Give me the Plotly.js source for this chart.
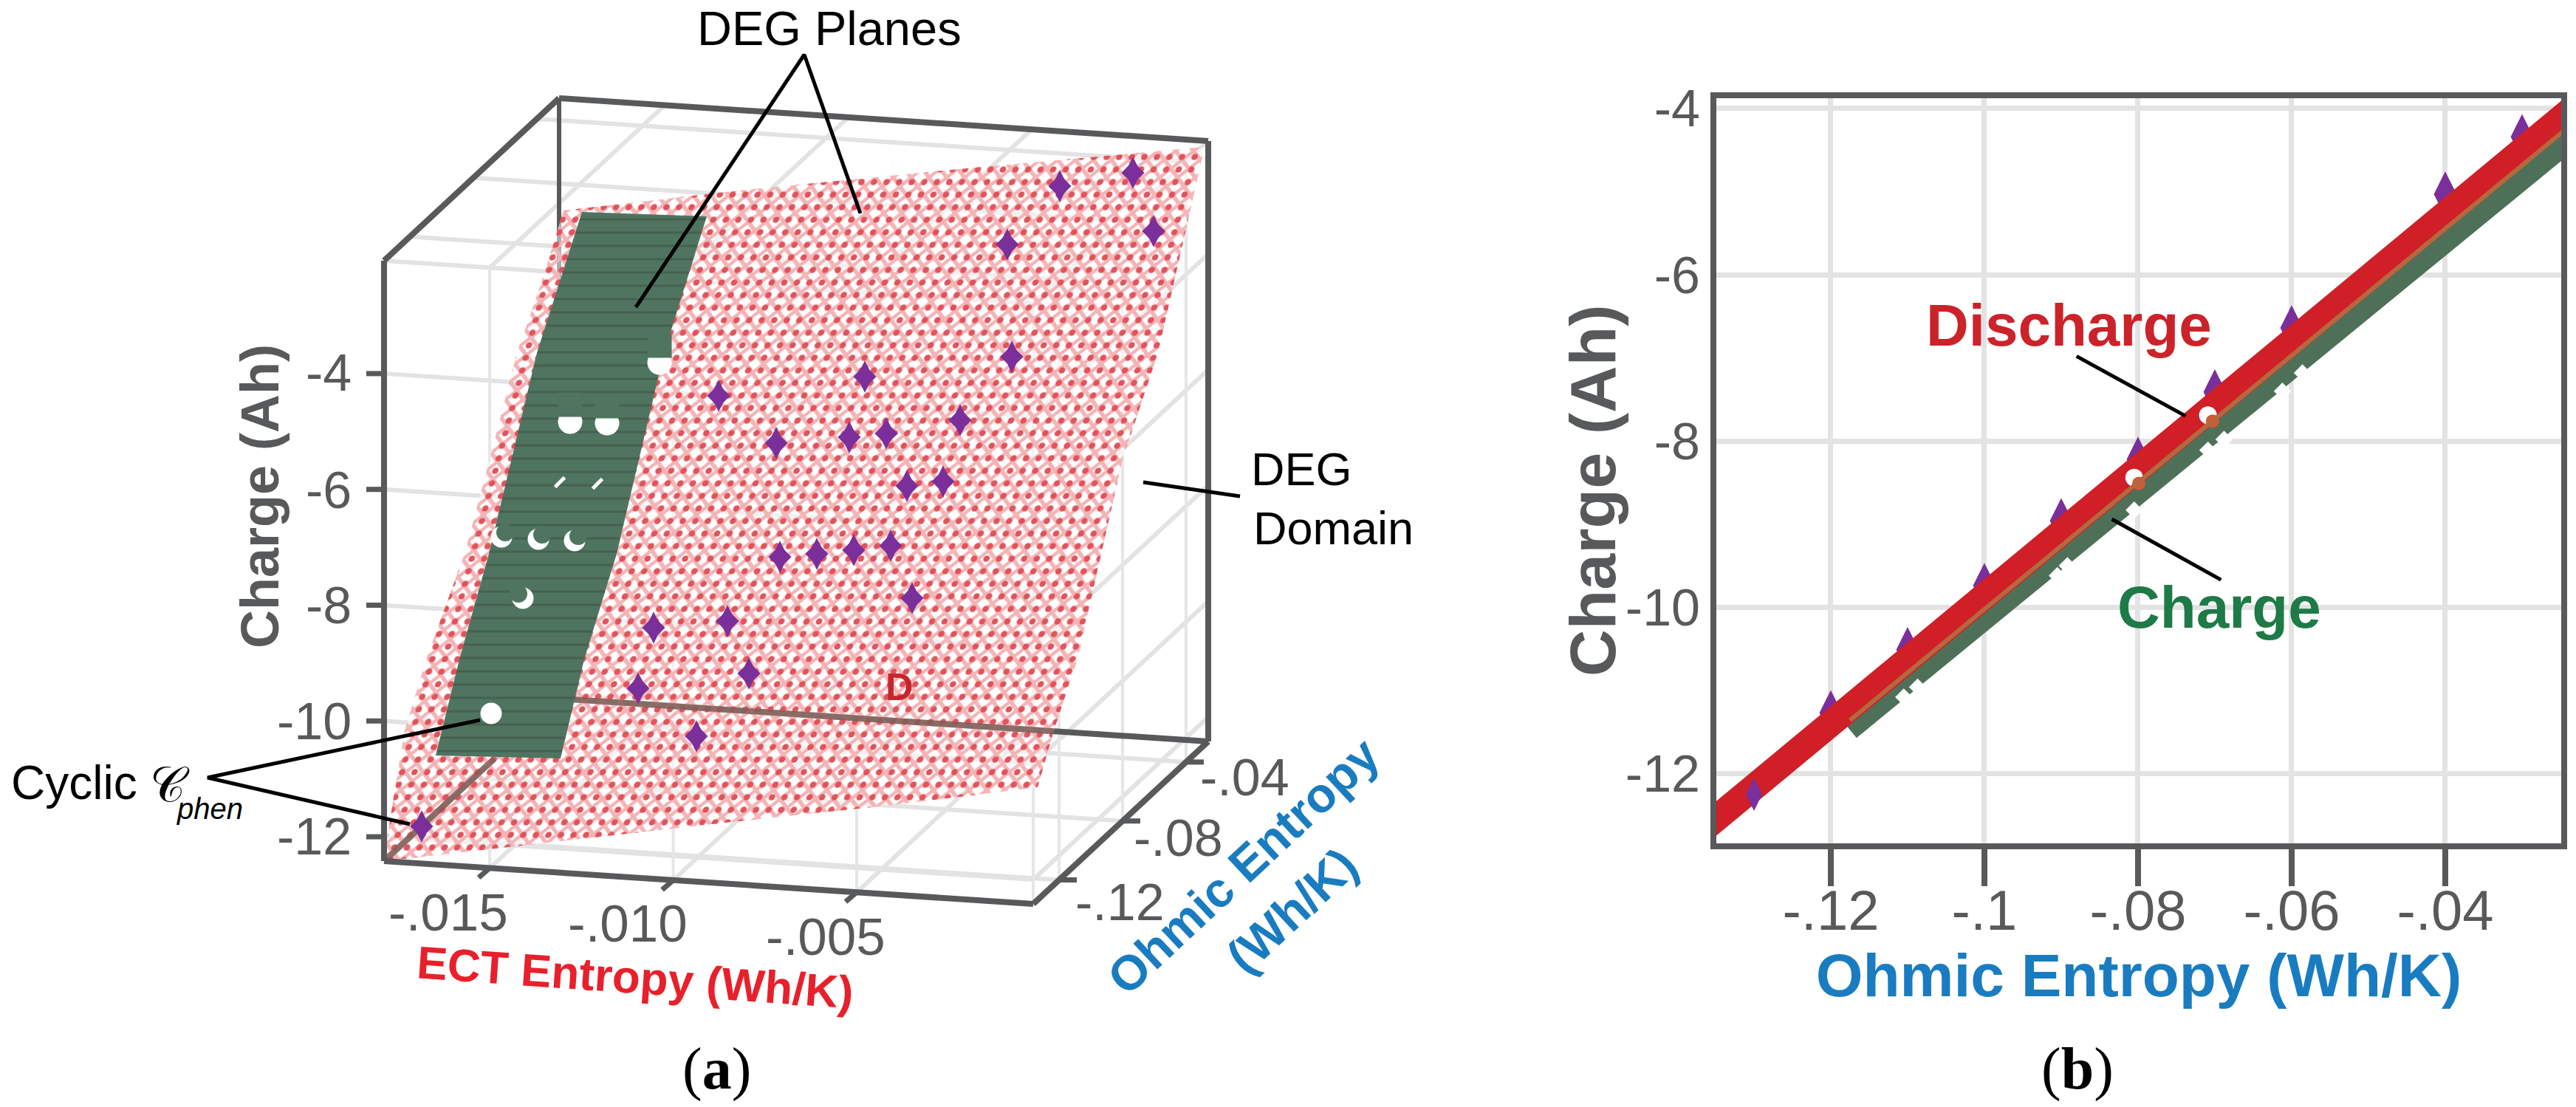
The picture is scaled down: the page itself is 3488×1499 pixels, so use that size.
<!DOCTYPE html>
<html>
<head>
<meta charset="utf-8">
<script src="https://cdn.plot.ly/plotly-3.0.1.min.js"></script>
<style>html,body{margin:0;padding:0;background:#fff}#chart{width:3488px;height:1499px}</style>
</head>
<body>
<div id="chart"></div>
<script>
// ---------- panel (a): tick values ----------
const ectTicks = [-0.015, -0.010, -0.005];
const ohmicTicksA = [-0.12, -0.08, -0.04];
const chargeTicksA = [-4, -6, -8, -10, -12];
const ectRange = [-0.01788, -0.00019];
const ohmicRangeA = [-0.1363, -0.026];
const chargeRangeA = [-12.42, -2.05];

// ---------- panel (a): marks ----------
const redPlaneX = [520, 532, 548, 577, 629, 663, 700, 733, 763, 1000, 1319, 1631, 1568, 1520, 1491, 1459, 1427, 1405, 1191, 1000, 520];
const redPlaneY = [1166, 1085, 989, 893, 750, 622, 478, 383, 285, 258, 227, 199, 478, 622, 750, 893, 989, 1066, 1092, 1112, 1166];
const greenPlaneX = [788, 957, 899, 835, 791, 759, 590, 622, 662, 727];
const greenPlaneY = [287, 293, 478, 750, 893, 1027, 1023, 893, 750, 478];
const diamondAX = [1534, 1435, 1562, 1364, 1370, 1171, 973, 1300, 1051, 1150, 1200, 1228, 1277, 1056, 1106, 1156, 1206, 1235, 885, 985, 864, 1014, 943, 571];
const diamondAY = [234, 252, 313, 331, 483, 510, 536, 569, 600, 592, 587, 658, 652, 754, 750, 745, 739, 810, 850, 841, 932, 912, 997, 1119];
const halfDiscX = [893, 772, 822];
const halfDiscY = [491, 571, 573];
const sliverX = [758, 809];
const sliverY = [653, 655];
const crescentX = [679, 729, 778, 708];
const crescentY = [727, 730, 732, 810];
const fullDiscX = [665];
const fullDiscY = [966];

// ---------- panel (b) ----------
const ohmicTicksB = [-0.12, -0.10, -0.08, -0.06, -0.04];
const ohmicLabelsB = ['-.12', '-.1', '-.08', '-.06', '-.04'];
const chargeTicksB = [-4, -6, -8, -10, -12];
const dischargeX = [-0.14, -0.02];
const dischargeY = [-12.93, -3.74];
const chargeX = [-0.1175, -0.02];
const chargeY = [-11.476, -4.10];
const overlapX = [-0.1175, -0.02];
const overlapY = [-11.36, -3.92];
const diamondBX = [-0.12, -0.11, -0.10, -0.09, -0.08, -0.07, -0.06, -0.04, -0.03];
const diamondBY = [-11.27, -10.51, -9.74, -8.96, -8.22, -7.41, -6.64, -5.03, -4.34];
const diamondB2X = [-0.13];
const diamondB2Y = [-12.25];
const innerDiscX = [-0.0805, -0.0709];
const innerDiscY = [-8.44, -7.69];
const notchX = [-0.0586, -0.0612, -0.0688, -0.0709, -0.0805, -0.0892, -0.0905, -0.1087, -0.1105];
const notchY = [-7.18, -7.40, -7.98, -8.11, -8.83, -9.50, -9.62, -10.96, -11.08];

// ---------- styles ----------
const SLATE = '#58595b', GRID = '#e3e3e3', PURPLE = '#7a2f9a', GREEN = '#4f7561';
const SANS = '"Liberation Sans", Arial, sans-serif';

function proj(e, o, q) {
  const fe = (e - ectRange[0]) / (ectRange[1] - ectRange[0]);
  const fo = (o - ohmicRangeA[0]) / (ohmicRangeA[1] - ohmicRangeA[0]);
  const fq = (q - chargeRangeA[0]) / (chargeRangeA[1] - chargeRangeA[0]);
  return [520 + 879 * fe + 237 * fo, 1166 + 58 * fe - 220 * fo - 813 * fq];
}
const [e0, e1] = ectRange, [o0, o1] = ohmicRangeA, [q0, q1] = chargeRangeA;
function segs(list) {
  const x = [], y = [];
  list.forEach(s => {
    const a = proj(...s[0]), b = proj(...s[1]);
    x.push(a[0], b[0], null); y.push(a[1], b[1], null);
  });
  return {x, y};
}
function lineTrace(d, color, width, name) {
  return {x: d.x, y: d.y, mode: 'lines', line: {color, width}, name, hoverinfo: 'skip', xaxis: 'x', yaxis: 'y'};
}

const levelSegs = [], vertSegs = [], ceilFloor = [];
chargeTicksA.forEach(q => {
  levelSegs.push([[e0, o0, q], [e1, o0, q]]);
  levelSegs.push([[e1, o0, q], [e1, o1, q]]);
});
levelSegs.push([[e1, o0, q1], [e1, o1, q1]], [[e0, o0, q1], [e1, o0, q1]]);
ectTicks.forEach(e => {
  vertSegs.push([[e, o0, q0], [e, o0, q1]]);
  ceilFloor.push([[e, o0, q1], [e, o1, q1]], [[e, o0, q0], [e, o1, q0]]);
});
vertSegs.push([[e1, o0, q0], [e1, o0, q1]]);
ohmicTicksA.forEach(o => {
  vertSegs.push([[e1, o, q0], [e1, o, q1]]);
  ceilFloor.push([[e0, o, q1], [e1, o, q1]], [[e0, o, q0], [e1, o, q0]]);
});

const backFrame = segs([
  [[e0, o1, q0], [e1, o1, q0]],
  [[e0, o0, q0], [e0, o1, q0]]
]);
// the same floor edges where they are seen through the plane
const floorThrough = segs([
  [[e0, o1, q0], [-0.0044, o1, q0]],
  [[e0, o0, q0], [e0, -0.0668, q0]]
]);
const topFrame = segs([
  [[e0, o0, q1], [e0, o1, q1]],
  [[e0, o1, q1], [e1, o1, q1]],
  [[e1, o1, q1], [e1, o1, q0]],
  [[e0, o0, q1], [e0, o0, q0]],
  [[e0, o0, q0], [e1, o0, q0]],
  [[e1, o0, q0], [e1, o1, q0]]
]);
const blTop = proj(e0, o1, q1);
const backLeft = {x: [blTop[0], blTop[0]], y: [blTop[1], 385]};

// tick stubs
const tickX = [], tickY = [];
chargeTicksA.forEach(q => { const p = proj(e0, o0, q); tickX.push(p[0] - 24, p[0], null); tickY.push(p[1], p[1], null); });
ectTicks.forEach(e => { const p = proj(e, o0, q0); tickX.push(p[0], p[0] - 15, null); tickY.push(p[1], p[1] + 13, null); });
ohmicTicksA.forEach(o => { const p = proj(e1, o, q0); tickX.push(p[0], p[0] + 24, null); tickY.push(p[1], p[1], null); });

const traces = [];
traces.push(lineTrace(segs(ceilFloor), GRID, 6, 'grid'));
traces.push(lineTrace(segs(levelSegs), GRID, 6, 'grid levels'));
traces.push(lineTrace(segs(vertSegs), '#e6e6e6', 4, 'grid verticals'));
traces.push(lineTrace(backFrame, SLATE, 8, 'floor edges'));
traces.push(lineTrace(backLeft, SLATE, 6, 'back edge'));

// DEG domain plane: pink mesh then red knots
traces.push({x: redPlaneX, y: redPlaneY, mode: 'lines', fill: 'toself', line: {width: 0, color: 'rgba(0,0,0,0)'},
  fillcolor: 'rgba(0,0,0,0)', uid: 'meshplane',
  fillpattern: {shape: 'x', size: 17, solidity: 0.5, fgcolor: '#f4b4b6', bgcolor: 'rgba(255,255,255,0.5)'},
  name: 'DEG plane mesh', hoverinfo: 'skip', xaxis: 'x', yaxis: 'y'});
traces.push({x: redPlaneX, y: redPlaneY, mode: 'lines', fill: 'toself', line: {width: 0, color: 'rgba(0,0,0,0)'},
  fillcolor: 'rgba(0,0,0,0)', uid: 'knotplane',
  fillpattern: {shape: '.', size: 17, solidity: 0.2, fgcolor: '#e1535b', bgcolor: 'rgba(255,255,255,0)'},
  name: 'Discharge plane', hoverinfo: 'skip', xaxis: 'x', yaxis: 'y'});
traces.push(lineTrace(floorThrough, 'rgba(125,95,88,0.85)', 8, 'floor edges through plane'));
// charge plane
traces.push({x: greenPlaneX, y: greenPlaneY, mode: 'lines', fill: 'toself', line: {width: 0, color: GREEN},
  fillcolor: GREEN, uid: 'greenplane',
  fillpattern: {shape: '-', size: 18, solidity: 0.18, fgcolor: '#46614f', bgcolor: GREEN},
  name: 'Charge plane', hoverinfo: 'skip', xaxis: 'x', yaxis: 'y'});

function dots(x, y, symbol, size, color, name, extra) {
  return Object.assign({x, y, mode: 'markers', marker: {symbol, size, color, line: {width: 0}},
    name, hoverinfo: 'skip', xaxis: 'x', yaxis: 'y'}, extra || {});
}
traces.push(dots(halfDiscX, halfDiscY, 'circle', 33, '#ffffff', 'Cyclic (charge)'));
traces.push(dots(halfDiscX, halfDiscY.map(v => v - 23), 'square', 33, GREEN, 'cover'));
traces.push(dots(crescentX, crescentY, 'circle', 29, '#ffffff', 'Cyclic (charge)'));
traces.push(dots(crescentX.map((v, i) => v + (i === 3 ? -6 : 5)), crescentY.map(v => v - 6), 'circle', 24, GREEN, 'cover'));
traces.push(dots(fullDiscX, fullDiscY, 'circle', 29, '#ffffff', 'Cyclic (charge)'));
traces.push({x: sliverX, y: sliverY, mode: 'markers', marker: {symbol: 'line-ne', size: 13, line: {width: 5, color: '#ffffff'}},
  name: 'Cyclic (charge)', hoverinfo: 'skip', xaxis: 'x', yaxis: 'y'});

traces.push(dots(diamondAX, diamondAY, 'diamond-tall', 31, PURPLE, 'Cyclic (discharge)'));
traces.push(dots(diamondAX, diamondAY, 'diamond', 24, PURPLE, 'Cyclic (discharge)'));

traces.push(lineTrace(topFrame, SLATE, 8, 'box frame'));
traces.push(lineTrace({x: tickX, y: tickY}, SLATE, 7, 'ticks'));

// call-out lines, panel (a)
const calloutX = [861, 1089, 1165, null, 650, 281, 555, null, 1548, 1679];
const calloutY = [416, 74, 289, null, 975, 1053, 1116, null, 653, 672];
traces.push(lineTrace({x: calloutX, y: calloutY}, '#000000', 5, 'call-outs'));

// ---------- panel (b) traces ----------
function b(t) { return Object.assign({xaxis: 'x2', yaxis: 'y2', hoverinfo: 'skip'}, t); }
traces.push(b({x: chargeX, y: chargeY, mode: 'lines', line: {color: '#4f7058', width: 28}, name: 'Charge'}));
traces.push(b({x: notchX, y: notchY, mode: 'markers', marker: {symbol: 'diamond', size: 18, color: '#ffffff'}, name: 'Charge cyclic'}));
traces.push(b({x: diamondBX, y: diamondBY, mode: 'markers', marker: {symbol: 'diamond-tall', size: 44, color: PURPLE}, name: 'Discharge cyclic'}));
traces.push(b({x: dischargeX, y: dischargeY, mode: 'lines', line: {color: '#d01f26', width: 36}, name: 'Discharge'}));
traces.push(b({x: diamondB2X, y: diamondB2Y, mode: 'markers', marker: {symbol: 'diamond-tall', size: 32, color: PURPLE}, name: 'Discharge cyclic'}));
traces.push(b({x: innerDiscX, y: innerDiscY, mode: 'markers', marker: {symbol: 'circle', size: 24, color: '#ffffff'}, name: 'Charge cyclic'}));
traces.push(b({x: innerDiscX.map(v => v + 0.0006), y: innerDiscY.map(v => v - 0.07), mode: 'markers', marker: {symbol: 'circle', size: 18, color: '#cf5a35'}, name: 'Charge cyclic core'}));
traces.push(b({x: overlapX, y: overlapY, mode: 'lines', line: {color: '#b5683f', width: 6}, name: 'Overlap'}));
traces.push(b({x: [-0.0880, -0.0738, null, -0.0834, -0.0692], y: [-6.98, -7.70, null, -8.94, -9.67], mode: 'lines',
  line: {color: '#000000', width: 5}, name: 'call-outs'}));

function note(text, x, y, size, color, opt) {
  return Object.assign({text, x, y, xref: 'x', yref: 'y', showarrow: false, xanchor: 'center', yanchor: 'middle',
    font: {family: SANS, size, color}}, opt || {});
}
const BLUE = '#1a7cc0', ECTRED = '#e8202c';
const annotations = [
  note('DEG Planes', 1123, 38, 65, '#000'),
  note('DEG', 1692, 635, 63, '#000', {xanchor: 'left'}),
  note('Domain', 1695, 715, 63, '#000', {xanchor: 'left'}),
  note('Cyclic', 13, 1060, 64, '#000', {xanchor: 'left'}),
  note('𝒞', 230, 1062, 66, '#000', {font: {family: '"DejaVu Serif", "DejaVu Sans", serif', size: 66, color: '#000'}}),
  note('<i>phen</i>', 284, 1095, 40, '#000'),
  note('<b>D</b>', 1218, 930, 52, '#c8242c'),
  note('<b>Charge (Ah)</b>', 352, 672, 72, SLATE, {textangle: -90}),
  note('-4', 478, 505, 70, SLATE, {xanchor: 'right'}),
  note('-6', 478, 664, 70, SLATE, {xanchor: 'right'}),
  note('-8', 478, 820, 70, SLATE, {xanchor: 'right'}),
  note('-10', 478, 977, 70, SLATE, {xanchor: 'right'}),
  note('-12', 478, 1133, 70, SLATE, {xanchor: 'right'}),
  note('-.015', 607, 1235, 71, SLATE),
  note('-.010', 850, 1250, 71, SLATE),
  note('-.005', 1118, 1268, 71, SLATE),
  note('-.12', 1516, 1222, 70, SLATE),
  note('-.08', 1595, 1135, 70, SLATE),
  note('-.04', 1685, 1053, 70, SLATE),
  note('<b>ECT Entropy (Wh/K)</b>', 860, 1323, 62, ECTRED, {textangle: 4}),
  note('<b>Ohmic Entropy</b>', 1683, 1173, 66, BLUE, {textangle: -43}),
  note('<b>(Wh/K)</b>', 1749, 1233, 66, BLUE, {textangle: -43}),
  note('<b>Charge (Ah)</b>', 2156, 664, 88, SLATE, {textangle: -90}),
  note('<b>Discharge</b>', 2801, 440, 80, '#cc2229'),
  note('<b>Charge</b>', 3005, 822, 80, '#1e7a46'),
  note('(<b>a</b>)', 970, 1447, 80, '#000', {font: {family: '"Liberation Serif", serif', size: 80, color: '#000'}}),
  note('(<b>b</b>)', 2813, 1447, 80, '#000', {font: {family: '"Liberation Serif", serif', size: 80, color: '#000'}})
];

const layout = {
  width: 3488, height: 1499,
  margin: {l: 0, r: 0, t: 0, b: 0},
  paper_bgcolor: '#ffffff', plot_bgcolor: '#ffffff',
  showlegend: false,
  font: {family: SANS},
  xaxis: {visible: false, range: [0, 3488], domain: [0, 1], fixedrange: true},
  yaxis: {visible: false, range: [1499, 0], domain: [0, 1], fixedrange: true},
  xaxis2: {
    domain: [2324 / 3488, 3468 / 3488], anchor: 'y2', range: [-0.1349, -0.0249],
    tickmode: 'array', tickvals: ohmicTicksB, ticktext: ohmicLabelsB,
    ticks: 'outside', ticklen: 50, tickwidth: 8, tickcolor: SLATE,
    ticklabelstandoff: -32,
    tickfont: {family: SANS, size: 76, color: SLATE},
    showgrid: true, gridcolor: GRID, gridwidth: 7, zeroline: false,
    showline: true, linecolor: SLATE, linewidth: 8, mirror: true,
    title: {text: '<b>Ohmic Entropy (Wh/K)</b>', standoff: 4, font: {family: SANS, size: 82, color: BLUE}}
  },
  yaxis2: {
    domain: [(1499 - 1142) / 1499, (1499 - 133) / 1499], anchor: 'x2', range: [-12.84, -3.876],
    tickmode: 'array', tickvals: chargeTicksB, ticktext: chargeTicksB.map(String),
    ticks: '', ticklabelstandoff: 0,
    tickfont: {family: SANS, size: 70, color: SLATE},
    showgrid: true, gridcolor: GRID, gridwidth: 7, zeroline: false,
    showline: true, linecolor: SLATE, linewidth: 8, mirror: true
  },
  annotations
};

Plotly.newPlot('chart', traces, layout, {displayModeBar: false, responsive: false}).then(() => {
  // shear the mesh lattice so it follows the tilted plane
  document.querySelectorAll('pattern').forEach(p => {
    if (/meshplane|knotplane/.test(p.id)) p.setAttribute('patternTransform', 'skewX(-15)');
  });
});
</script>
</body>
</html>
